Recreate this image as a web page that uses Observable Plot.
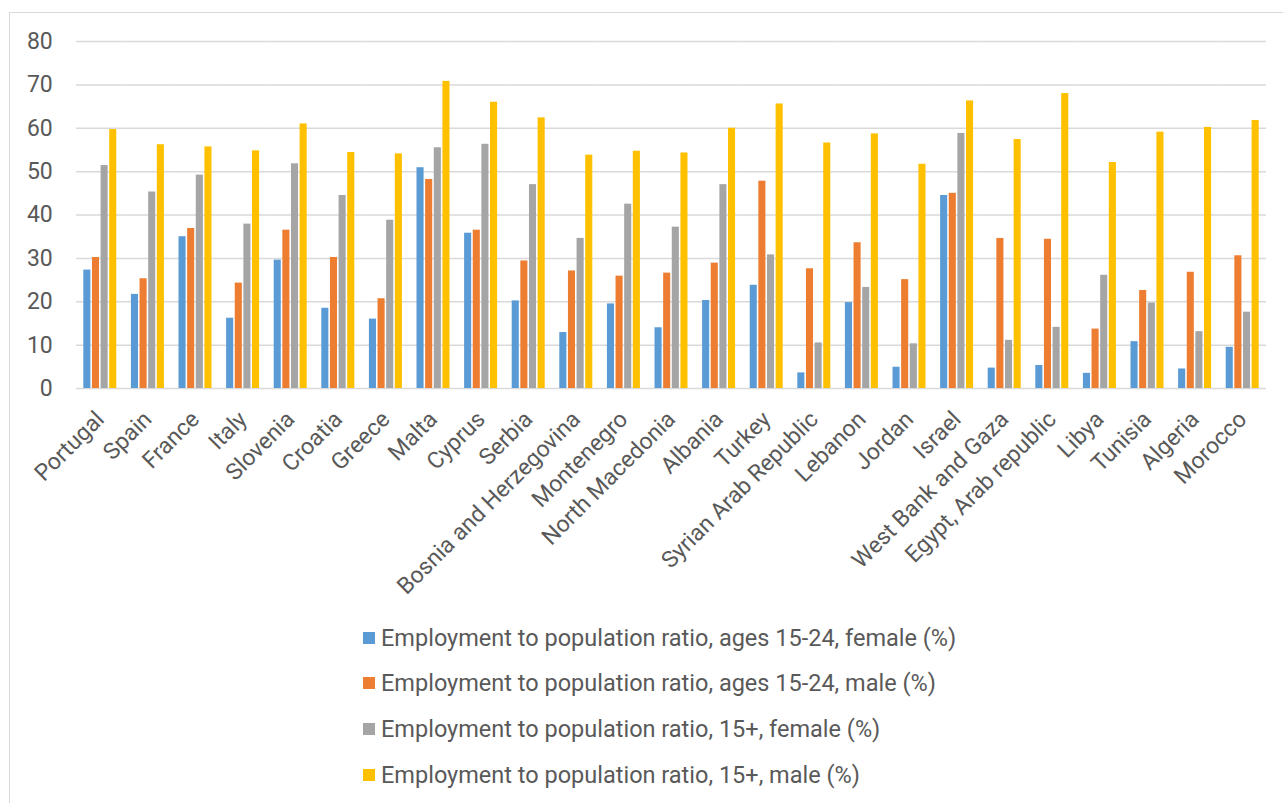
<!DOCTYPE html>
<html>
<head>
<meta charset="utf-8">
<script src="https://cdn.jsdelivr.net/npm/d3@7"></script>
<script src="https://cdn.jsdelivr.net/npm/@observablehq/plot@0.6"></script>
<style>
  body { margin: 0; background: #fff; font-family: Roboto, "Liberation Sans", sans-serif; }
  #chart { position: relative; width: 1283px; height: 803px; overflow: hidden; }
  #frame { position: absolute; left: 9px; top: 12px; width: 1300px; height: 820px;
           border-left: 1.5px solid #d9d9d9; border-top: 1.5px solid #d9d9d9; }
  #plot { position: absolute; left: 0; top: 0; }
  #legend { position: absolute; left: 363px; top: 615px; }
  .item { display: flex; align-items: center; height: 45.6px; font-size: 23.5px; color: #595959; }
  .sw { width: 12px; height: 12px; margin-right: 6px; flex: none; }
</style>
</head>
<body>
<div id="chart">
  <div id="frame"></div>
  <div id="plot"></div>
  <div id="legend"></div>
</div>
<script>
// Countries along the x axis
const countries = [
  "Portugal", "Spain", "France", "Italy", "Slovenia", "Croatia", "Greece", "Malta",
  "Cyprus", "Serbia", "Bosnia and Herzegovina", "Montenegro", "North Macedonia",
  "Albania", "Turkey", "Syrian Arab Republic", "Lebanon", "Jordan", "Israel",
  "West Bank and Gaza", "Egypt, Arab republic", "Libya", "Tunisia", "Algeria", "Morocco"
];

// Series names (legend entries)
const seriesNames = [
  "Employment to population ratio, ages 15-24, female (%)",
  "Employment to population ratio, ages 15-24, male (%)",
  "Employment to population ratio, 15+, female (%)",
  "Employment to population ratio, 15+, male (%)"
];

// Values per series, in country order
const youthFemale = [27.3, 21.7, 35.0, 16.2, 29.6, 18.5, 16.0, 50.9, 35.8, 20.2, 12.9, 19.5, 14.0, 20.3, 23.8, 3.6, 19.8, 4.9, 44.5, 4.7, 5.3, 3.5, 10.8, 4.5, 9.5];
const youthMale   = [30.2, 25.3, 36.9, 24.3, 36.5, 30.2, 20.7, 48.2, 36.5, 29.4, 27.1, 25.9, 26.6, 28.9, 47.8, 27.6, 33.6, 25.1, 45.0, 34.6, 34.4, 13.7, 22.6, 26.8, 30.6];
const adultFemale = [51.4, 45.3, 49.2, 37.9, 51.8, 44.5, 38.8, 55.5, 56.3, 47.0, 34.6, 42.5, 37.2, 47.0, 30.8, 10.5, 23.3, 10.3, 58.8, 11.1, 14.1, 26.1, 19.7, 13.1, 17.6];
const adultMale   = [59.7, 56.2, 55.7, 54.8, 61.0, 54.4, 54.1, 70.8, 66.0, 62.4, 53.8, 54.7, 54.3, 60.0, 65.6, 56.6, 58.7, 51.7, 66.3, 57.4, 68.0, 52.1, 59.1, 60.2, 61.8];

// Y axis ticks
const yTicks = [0, 10, 20, 30, 40, 50, 60, 70, 80];

const seriesColors = ["#5B9BD5", "#ED7D31", "#A5A5A5", "#FFC000"];
const seriesValues = [youthFemale, youthMale, adultFemale, adultMale];

// Long-format table: one row per country and series
const rows = countries.flatMap((country, i) =>
  seriesNames.map((series, j) => ({ country, series, value: seriesValues[j][i] }))
);

const W = 1283, ML = 76, MR = 17;
const fxPadInner = 0.307;
const fxPadOuter = fxPadInner / 2;
const fxStep = (W - ML - MR) / countries.length;

const chart = Plot.plot({
  width: W,
  height: 610,
  marginLeft: ML,
  marginRight: MR,
  marginTop: 41,
  marginBottom: 222,
  style: { fontFamily: "Roboto, 'Liberation Sans', sans-serif", fontSize: "23px", color: "#595959", background: "transparent" },
  fx: { domain: countries, round: false, paddingInner: fxPadInner, paddingOuter: fxPadOuter, label: null,
        axis: "bottom", tickRotate: -45, tickSize: 0, tickPadding: 27 },
  x: { domain: seriesNames, round: false, paddingInner: 0.18, paddingOuter: 0, axis: null },
  y: { domain: [0, 80], ticks: yTicks, label: null, tickSize: 0, tickPadding: 31 },
  color: { domain: seriesNames, range: seriesColors },
  marks: [
    // gridlines stretched across the gaps between country groups
    Plot.ruleY(yTicks, { y: d => d, stroke: "#d9d9d9", strokeWidth: 1.5,
      insetLeft: -fxStep * fxPadOuter, insetRight: -fxStep * fxPadOuter }),
    Plot.barY(rows, { fx: "country", x: "series", y: "value", fill: "series" })
  ]
});
document.getElementById("plot").append(chart);

// Legend stacked below the chart
const legend = document.getElementById("legend");
seriesNames.forEach((name, i) => {
  const item = document.createElement("div");
  item.className = "item";
  const sw = document.createElement("span");
  sw.className = "sw";
  sw.style.background = seriesColors[i];
  const label = document.createElement("span");
  label.textContent = name;
  item.append(sw, label);
  legend.append(item);
});
</script>
</body>
</html>
